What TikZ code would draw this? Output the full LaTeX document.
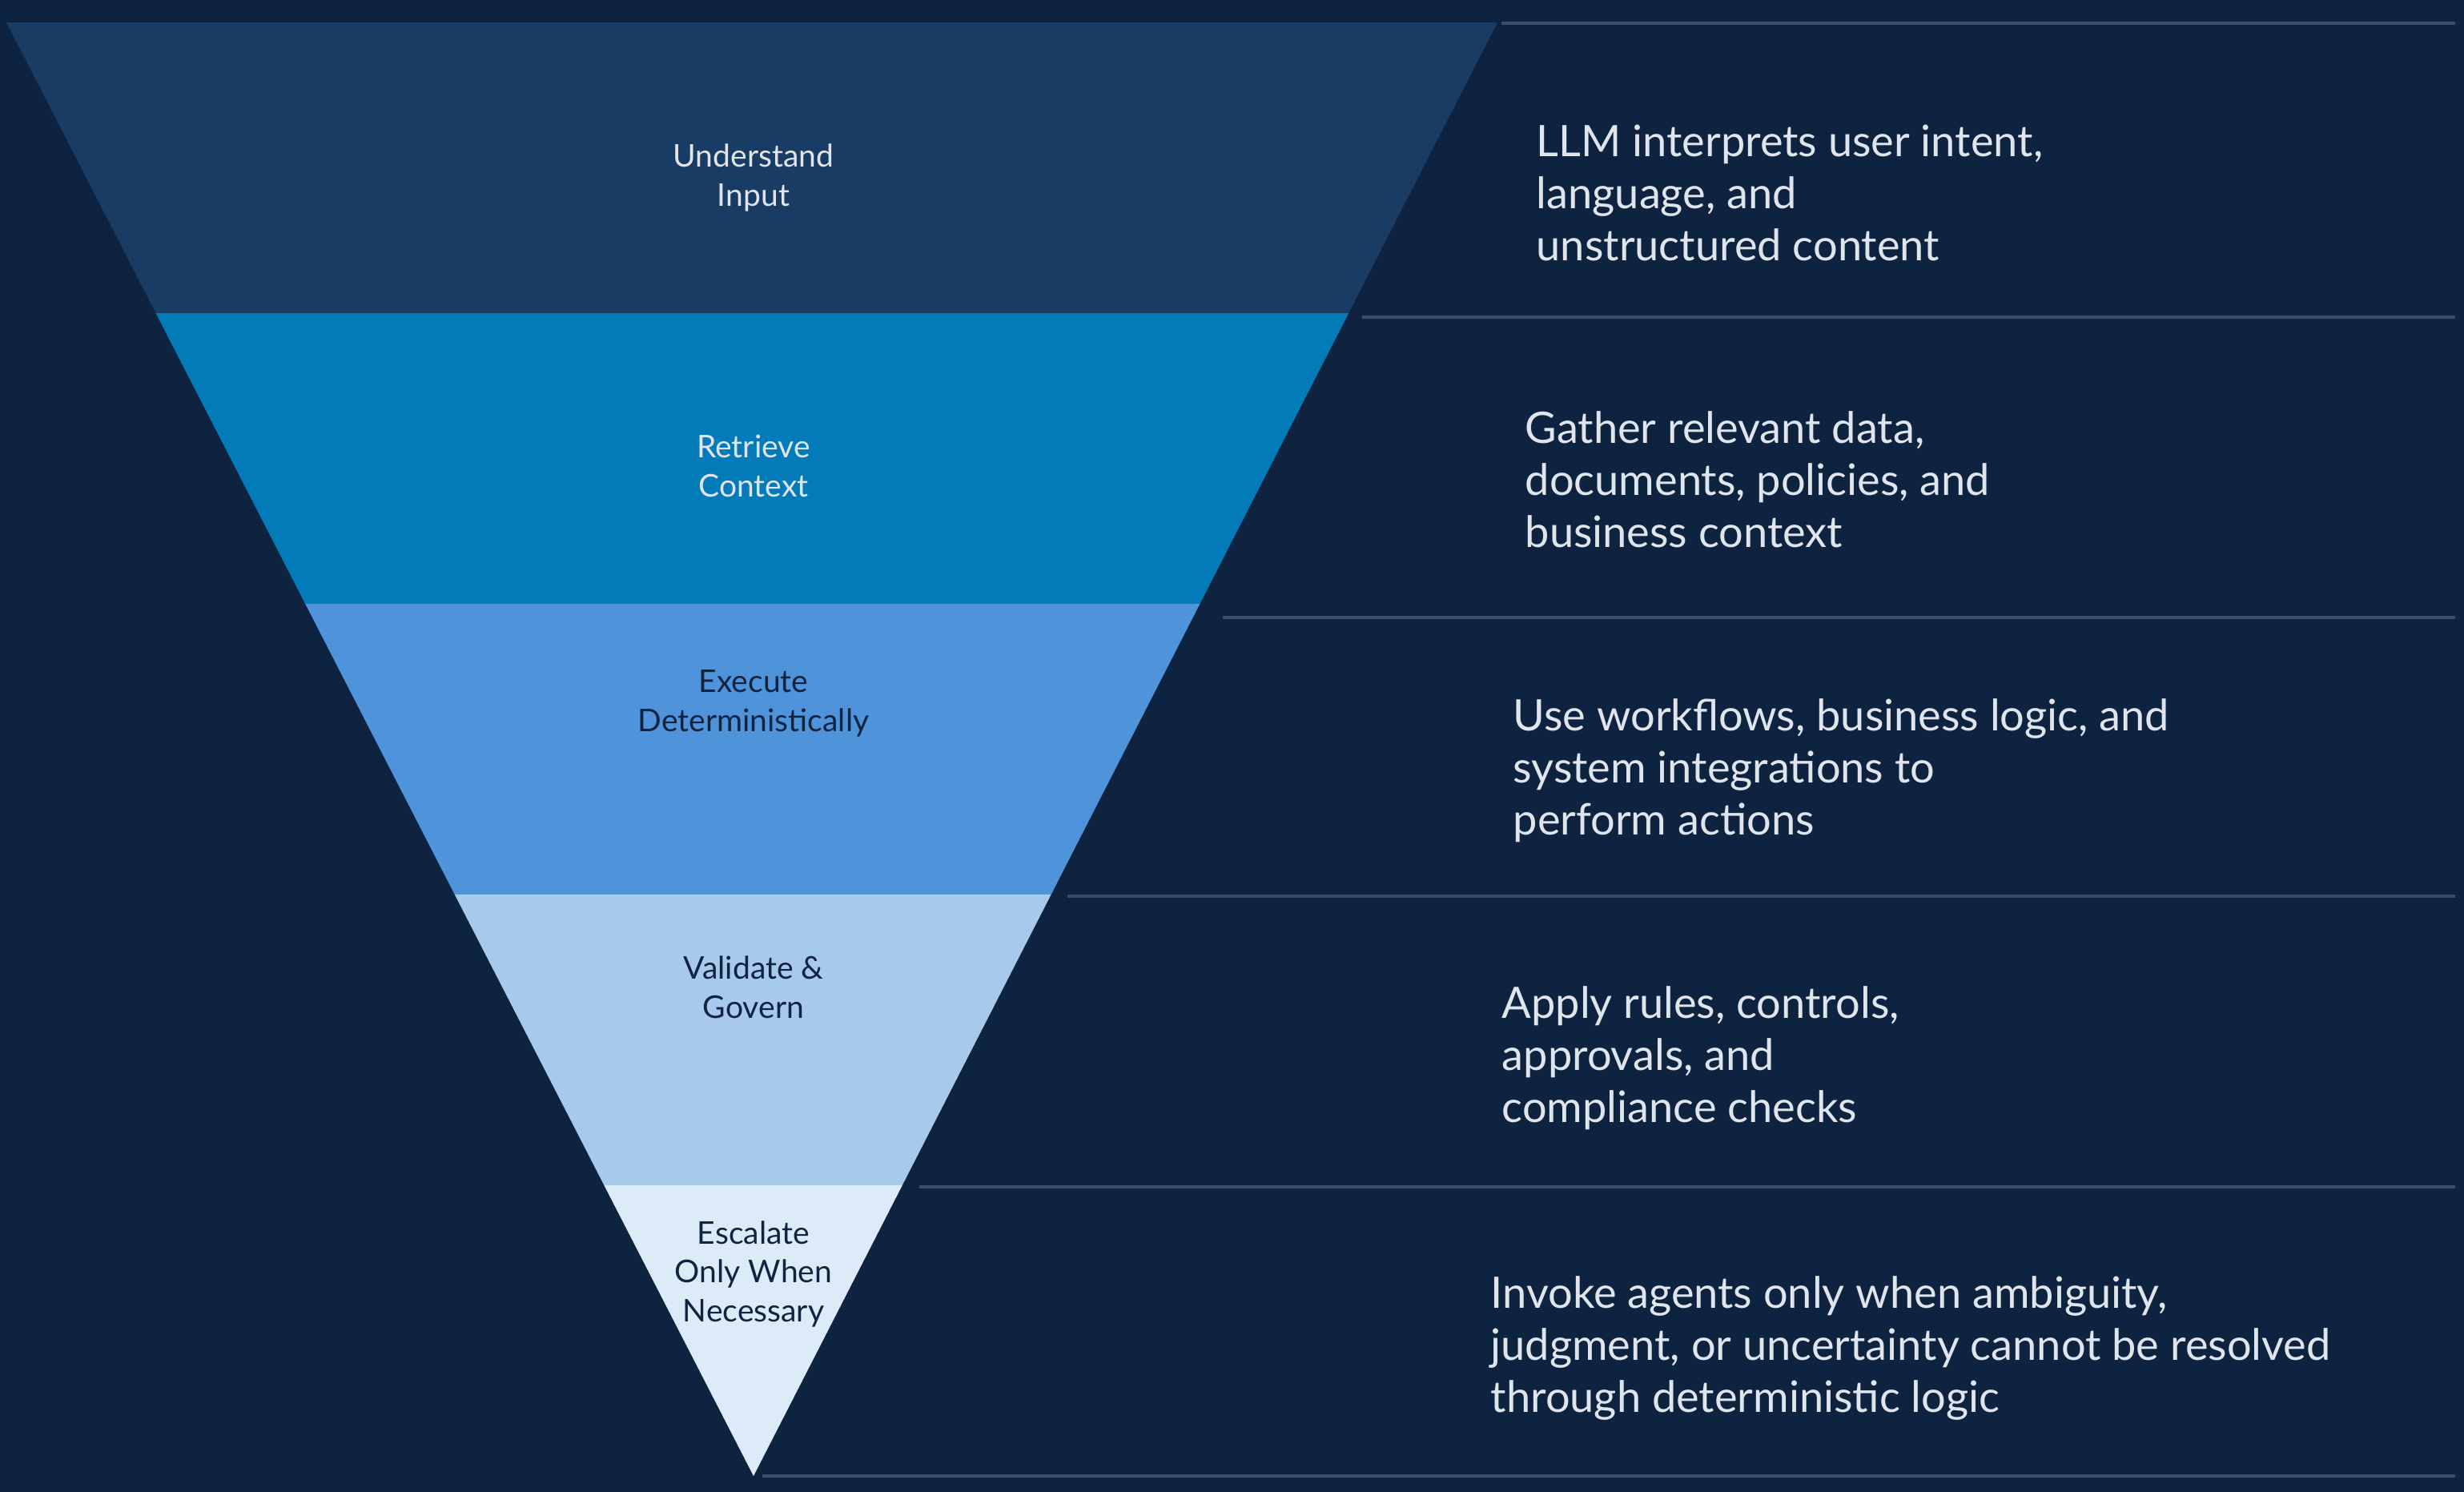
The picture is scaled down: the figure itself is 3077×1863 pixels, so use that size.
\documentclass[tikz,border=0pt]{standalone}
\usepackage{fontspec}
\setmainfont{Lato}
\usetikzlibrary{calc}
\definecolor{bgnavy}{HTML}{0D2340}
\definecolor{bandA}{HTML}{183C64}
\definecolor{bandB}{HTML}{047BB9}
\definecolor{bandC}{HTML}{4F94DA}
\definecolor{bandD}{HTML}{A6C9EC}
\definecolor{bandE}{HTML}{DDEBF9}
\definecolor{lighttext}{HTML}{E0E4EC}
\definecolor{darktext}{HTML}{0F2440}
\definecolor{sepgrey}{HTML}{3A4E66}

\begin{document}
\begin{tikzpicture}[x=0.01cm,y=-0.01cm,
    lbl/.style={align=center,anchor=base,inner sep=0pt,font=\fontsize{11.1}{13.7}\selectfont},
    desc/.style={align=left,anchor=base west,inner sep=0pt,text=lighttext,font=\fontsize{15.4}{18.4}\selectfont},
    sepline/.style={line width=1.15pt,sepgrey}]
    \useasboundingbox (0,0) rectangle (3077,1863);
    \fill[bgnavy] (0,0) rectangle (3077,1863);
    \coordinate (TL) at (8,28);
    \coordinate (TR) at (1870,28);
    \coordinate (A) at (941,1843);
    % funnel bands
    \foreach \col [count=\i from 0] in {bandA,bandB,bandC,bandD,bandE}{
        \pgfmathsetmacro{\ta}{\i/5}
        \pgfmathsetmacro{\tb}{(\i+1)/5}
        \fill[\col] ($(TL)!\ta!(A)$) -- ($(TR)!\ta!(A)$) -- ($(TR)!\tb!(A)$) -- ($(TL)!\tb!(A)$) -- cycle;
    }
    % separators on the right
    \foreach \xs/\ys in {1875/29, 1701/396, 1527/771, 1333/1119, 1148/1482, 952/1843}
        \draw[sepline] (\xs,\ys) -- (3066,\ys);
    % base anchor = last line
    \node[lbl,text=lighttext] (lab1) at (941,257) {Understand\\Input};
    \node[lbl,text=lighttext] (lab2) at (941,620) {Retrieve\\Context};
    \node[lbl,text=darktext] (lab3) at (941,913) {Execute\\Deterministically};
    \node[lbl,text=darktext] (lab4) at (941,1271) {Validate \&\\Govern};
    \node[lbl,text=darktext] (lab5) at (941,1650) {Escalate\\Only When\\Necessary};
    \node[desc] (desc1) at (1918,325) {LLM interprets user intent,\\language, and\\unstructured content};
    \node[desc] (desc2) at (1904,683) {Gather relevant data,\\documents, policies, and\\business context};
    \node[desc] (desc3) at (1889,1042) {Use workflows, business logic, and\\system integrations to\\perform actions};
    \node[desc] (desc4) at (1875,1401) {Apply rules, controls,\\approvals, and\\compliance checks};
    \node[desc] (desc5) at (1861,1763) {Invoke agents only when ambiguity,\\judgment, or uncertainty cannot be resolved\\through deterministic logic};
\end{tikzpicture}
\end{document}
